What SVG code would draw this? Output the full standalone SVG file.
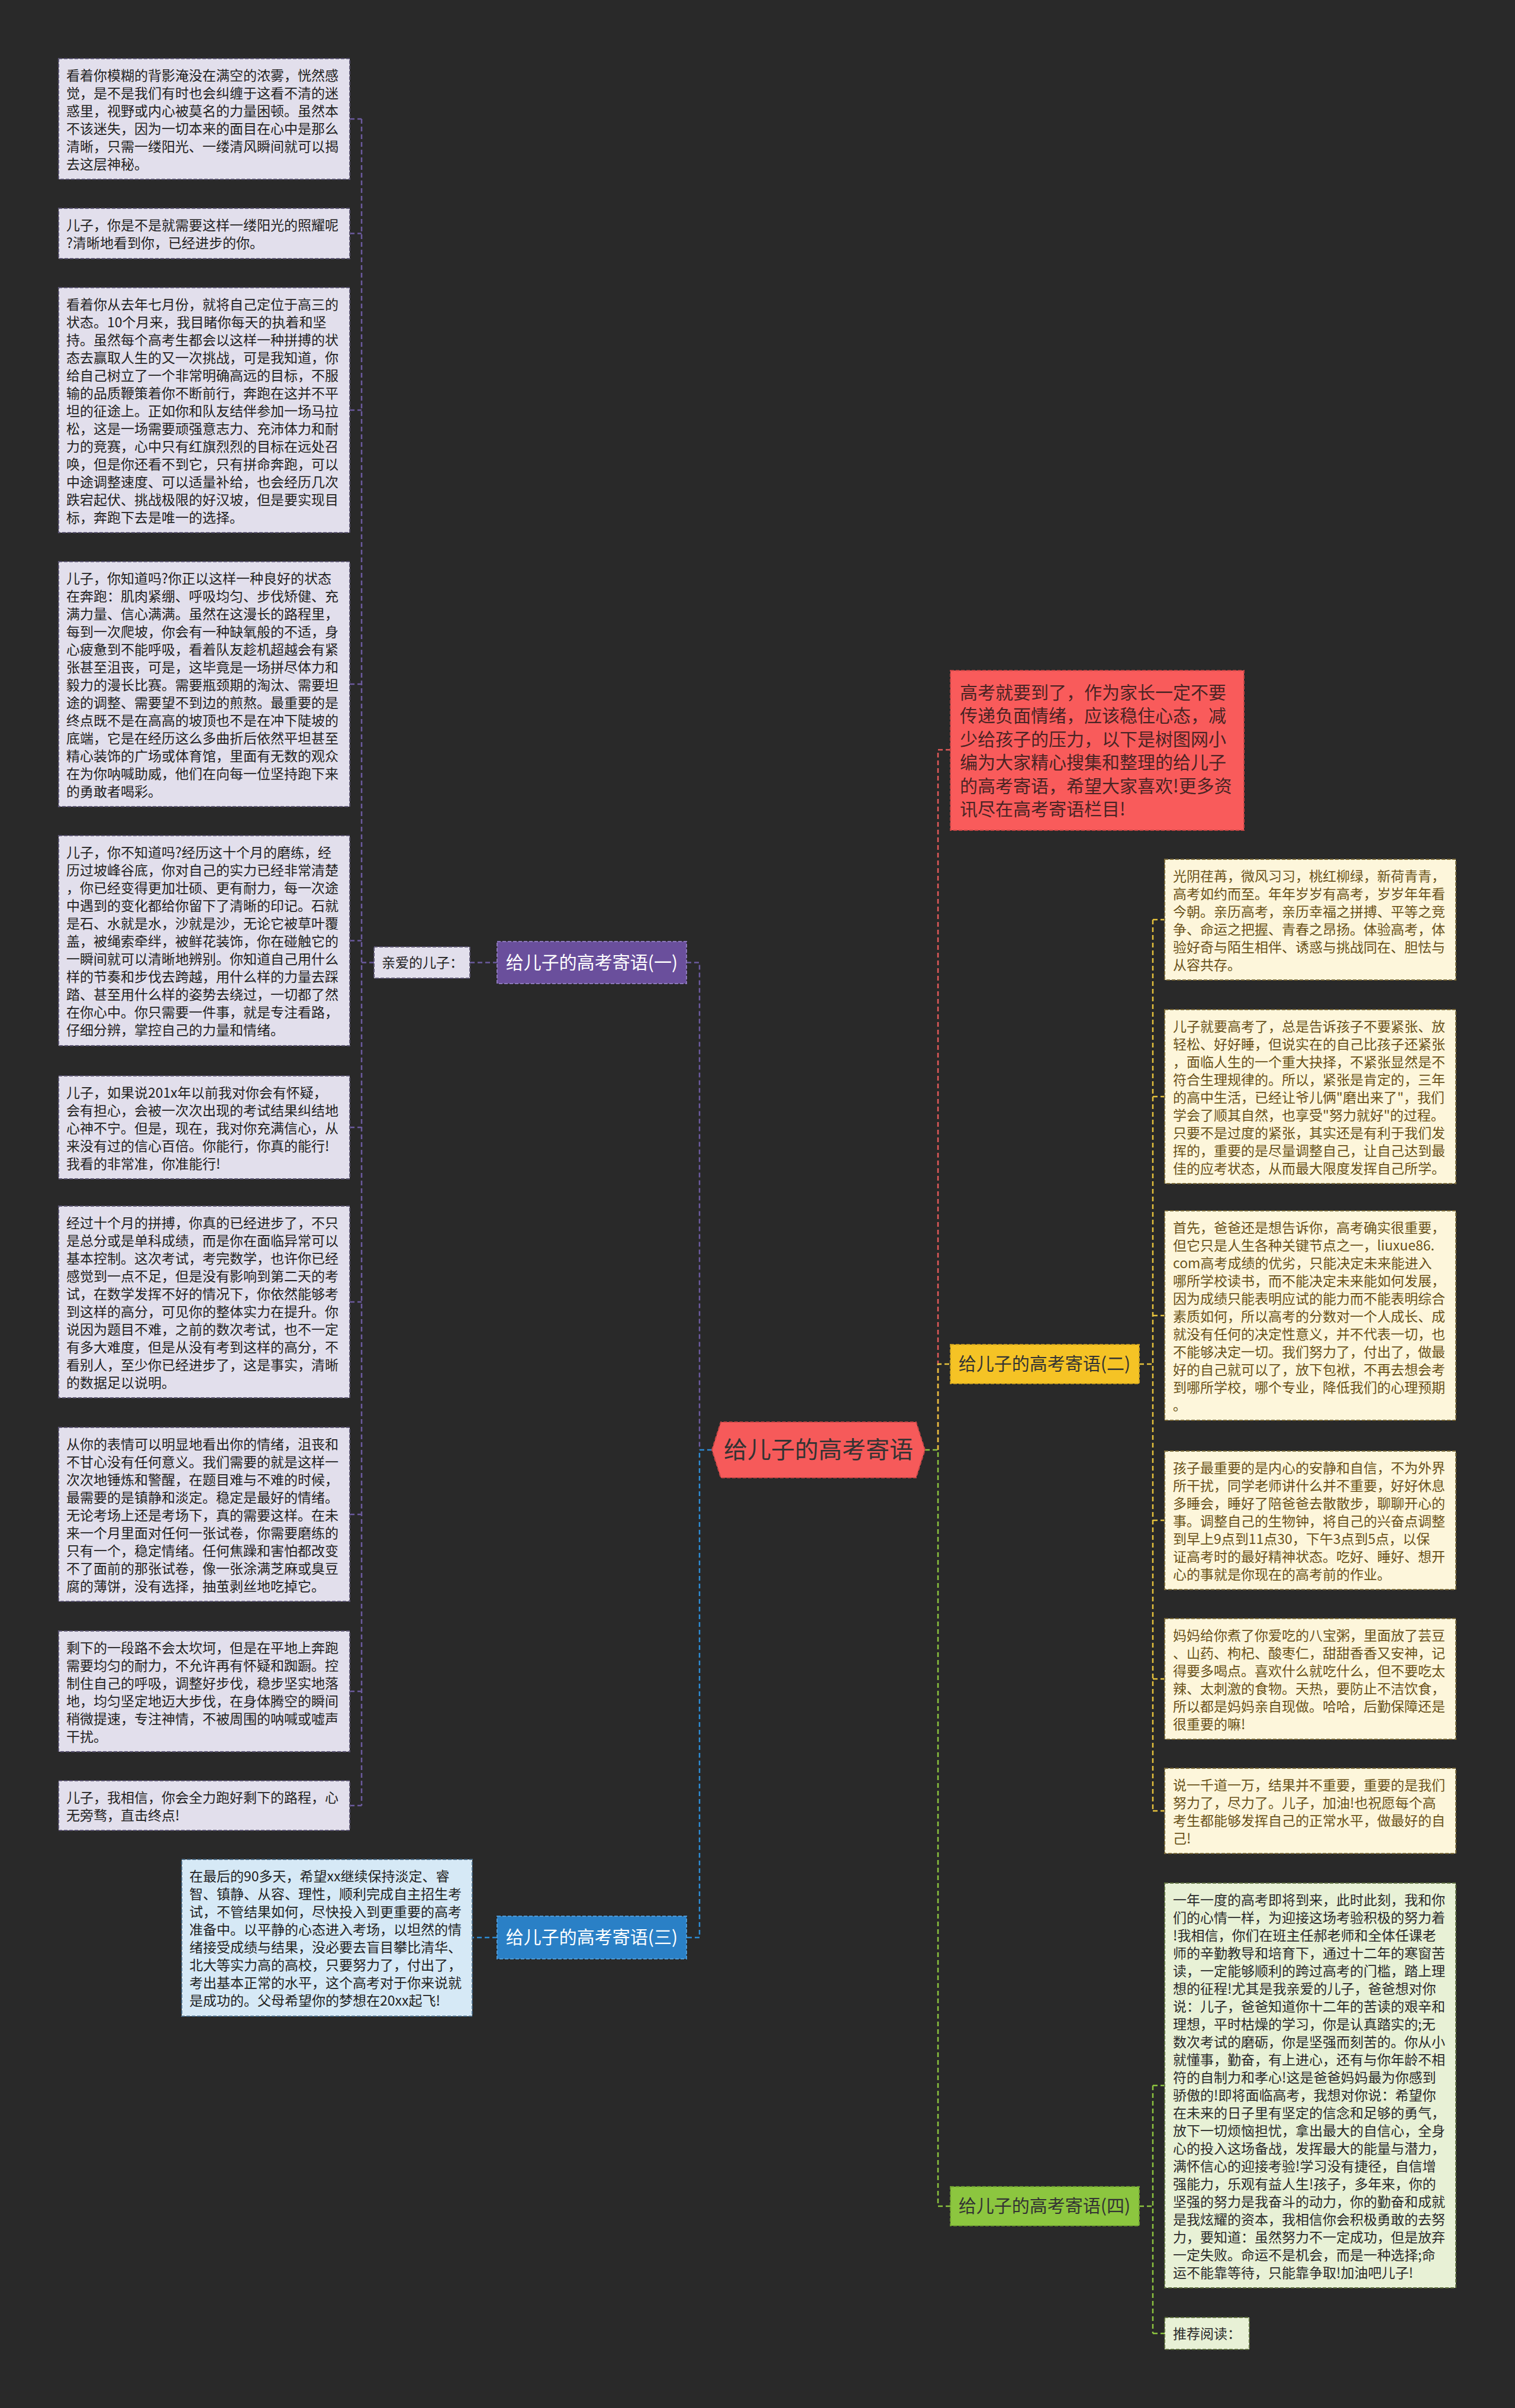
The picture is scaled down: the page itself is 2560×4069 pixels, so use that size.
<svg xmlns="http://www.w3.org/2000/svg" width="2560" height="4069" viewBox="0 0 2560 4069">
<style>
text{font-family:"Noto Sans CJK SC","Noto Sans",sans-serif;}
.t{font-size:23px;}
.lt{fill:#222;}
.rt{fill:#6a5219;}
.gt{fill:#2a2a2a;}
.lbox{fill:#e2dfec;stroke:#5c5672;stroke-width:2;stroke-dasharray:6 3;}
.bbox{fill:#d6e9f6;stroke:#4a6a85;stroke-width:2;stroke-dasharray:6 3;}
.ybox{fill:#fdf6db;stroke:#7a6a3a;stroke-width:2;stroke-dasharray:6 3;}
.gbox{fill:#e8f1d6;stroke:#5f7040;stroke-width:2;stroke-dasharray:6 3;}
.c{fill:none;stroke-width:2.5;stroke-dasharray:8 5;}
.cp{stroke:#6b5a9e;}
.cb{stroke:#2d8ad2;}
.cr{stroke:#e35a5a;}
.cy{stroke:#e6c23c;}
.cg{stroke:#8cc43f;}
.nt{font-size:30px;text-anchor:middle;}
</style>
<rect width="2560" height="4069" fill="#292929"/>
<g id="connectors">
<path class="c cp" d="M611,201V3051M591,201H611M591,394.5H611M591,693H611M591,1156H611M591,1589.5H611M591,1905H611M591,2200H611M591,2559H611M591,2858H611M591,3051H611M611,1626.5H632M794,1626.5H840M1160,1626.5H1182V2450"/>
<path class="c cr" d="M1585,2450V1267H1606"/>
<path class="c cy" d="M1585,2450V2305H1606M1925,2305H1948M1948,1554V3060M1948,1554H1968M1948,1853H1968M1948,2223H1968M1948,2569H1968M1948,2837H1968M1948,3060H1968"/>
<path class="c cg" d="M1563,2450H1585V3728H1606M1925,3728H1948M1948,3524V3943M1948,3524H1968M1948,3943H1968"/>
<path class="c cb" d="M1203,2450H1182V3274H1160M840,3274H798"/>
</g>
<g id="root">
<polygon points="1203,2450 1218,2403 1548,2403 1563,2450 1548,2497 1218,2497" fill="#f65a5a" stroke="#c84646" stroke-width="2" stroke-dasharray="6 3"/>
<text x="1383" y="2464" font-size="40" text-anchor="middle" fill="#333">给儿子的高考寄语</text>
</g>
<g id="branch1">
<rect x="840" y="1591" width="320" height="71" fill="#6a4f9c" stroke="#8c78bb" stroke-width="2" stroke-dasharray="6 3"/>
<text class="nt" x="1000" y="1637" fill="#fff">给儿子的高考寄语(一)</text>
</g>
<g id="branch2">
<rect x="1606" y="2272" width="319" height="66" fill="#f5c325" stroke="#c9a020" stroke-width="2" stroke-dasharray="6 3"/>
<text class="nt" x="1765" y="2315" fill="#333">给儿子的高考寄语(二)</text>
</g>
<g id="branch3">
<rect x="840" y="3238" width="320" height="72" fill="#2a80c6" stroke="#4d9ad6" stroke-width="2" stroke-dasharray="6 3"/>
<text class="nt" x="1000" y="3284" fill="#fff">给儿子的高考寄语(三)</text>
</g>
<g id="branch4">
<rect x="1606" y="3695" width="319" height="66" fill="#8cc63f" stroke="#6e9e30" stroke-width="2" stroke-dasharray="6 3"/>
<text class="nt" x="1765" y="3738" fill="#333">给儿子的高考寄语(四)</text>
</g>
<g id="intro">
<rect x="1606" y="1133" width="496" height="270" fill="#f95b5b" stroke="#c44444" stroke-width="2" stroke-dasharray="6 3"/>
<text x="1622" y="1181" font-size="30" fill="#4a2424"><tspan x="1622">高考就要到了，作为家长一定不要</tspan><tspan x="1622" dy="39.4">传递负面情绪，应该稳住心态，减</tspan><tspan x="1622" dy="39.4">少给孩子的压力，以下是树图网小</tspan><tspan x="1622" dy="39.4">编为大家精心搜集和整理的给儿子</tspan><tspan x="1622" dy="39.4">的高考寄语，希望大家喜欢!更多资</tspan><tspan x="1622" dy="39.4">讯尽在高考寄语栏目!</tspan></text>
</g>
<g id="dear">
<rect x="632" y="1600" width="162" height="53" class="lbox"/>
<text class="t lt" x="645" y="1635">亲爱的儿子：</text>
</g>
<g id="l1">
<rect x="99" y="99" width="492" height="204" class="lbox"/>
<text class="t lt" y="136"><tspan x="112">看着你模糊的背影淹没在满空的浓雾，恍然感</tspan><tspan x="112" dy="30">觉，是不是我们有时也会纠缠于这看不清的迷</tspan><tspan x="112" dy="30">惑里，视野或内心被莫名的力量困顿。虽然本</tspan><tspan x="112" dy="30">不该迷失，因为一切本来的面目在心中是那么</tspan><tspan x="112" dy="30">清晰，只需一缕阳光、一缕清风瞬间就可以揭</tspan><tspan x="112" dy="30">去这层神秘。</tspan></text>
</g>
<g id="l2">
<rect x="99" y="352" width="492" height="85" class="lbox"/>
<text class="t lt" y="389"><tspan x="112">儿子，你是不是就需要这样一缕阳光的照耀呢</tspan><tspan x="112" dy="30">?清晰地看到你，已经进步的你。</tspan></text>
</g>
<g id="l3">
<rect x="99" y="486" width="492" height="414" class="lbox"/>
<text class="t lt" y="523"><tspan x="112">看着你从去年七月份，就将自己定位于高三的</tspan><tspan x="112" dy="30">状态。10个月来，我目睹你每天的执着和坚</tspan><tspan x="112" dy="30">持。虽然每个高考生都会以这样一种拼搏的状</tspan><tspan x="112" dy="30">态去赢取人生的又一次挑战，可是我知道，你</tspan><tspan x="112" dy="30">给自己树立了一个非常明确高远的目标，不服</tspan><tspan x="112" dy="30">输的品质鞭策着你不断前行，奔跑在这并不平</tspan><tspan x="112" dy="30">坦的征途上。正如你和队友结伴参加一场马拉</tspan><tspan x="112" dy="30">松，这是一场需要顽强意志力、充沛体力和耐</tspan><tspan x="112" dy="30">力的竞赛，心中只有红旗烈烈的目标在远处召</tspan><tspan x="112" dy="30">唤，但是你还看不到它，只有拼命奔跑，可以</tspan><tspan x="112" dy="30">中途调整速度、可以适量补给，也会经历几次</tspan><tspan x="112" dy="30">跌宕起伏、挑战极限的好汉坡，但是要实现目</tspan><tspan x="112" dy="30">标，奔跑下去是唯一的选择。</tspan></text>
</g>
<g id="l4">
<rect x="99" y="949" width="492" height="414" class="lbox"/>
<text class="t lt" y="986"><tspan x="112">儿子，你知道吗?你正以这样一种良好的状态</tspan><tspan x="112" dy="30">在奔跑：肌肉紧绷、呼吸均匀、步伐矫健、充</tspan><tspan x="112" dy="30">满力量、信心满满。虽然在这漫长的路程里，</tspan><tspan x="112" dy="30">每到一次爬坡，你会有一种缺氧般的不适，身</tspan><tspan x="112" dy="30">心疲惫到不能呼吸，看着队友趁机超越会有紧</tspan><tspan x="112" dy="30">张甚至沮丧，可是，这毕竟是一场拼尽体力和</tspan><tspan x="112" dy="30">毅力的漫长比赛。需要瓶颈期的淘汰、需要坦</tspan><tspan x="112" dy="30">途的调整、需要望不到边的煎熬。最重要的是</tspan><tspan x="112" dy="30">终点既不是在高高的坡顶也不是在冲下陡坡的</tspan><tspan x="112" dy="30">底端，它是在经历这么多曲折后依然平坦甚至</tspan><tspan x="112" dy="30">精心装饰的广场或体育馆，里面有无数的观众</tspan><tspan x="112" dy="30">在为你呐喊助威，他们在向每一位坚持跑下来</tspan><tspan x="112" dy="30">的勇敢者喝彩。</tspan></text>
</g>
<g id="l5">
<rect x="99" y="1412" width="492" height="355" class="lbox"/>
<text class="t lt" y="1449"><tspan x="112">儿子，你不知道吗?经历这十个月的磨练，经</tspan><tspan x="112" dy="30">历过坡峰谷底，你对自己的实力已经非常清楚</tspan><tspan x="112" dy="30">，你已经变得更加壮硕、更有耐力，每一次途</tspan><tspan x="112" dy="30">中遇到的变化都给你留下了清晰的印记。石就</tspan><tspan x="112" dy="30">是石、水就是水，沙就是沙，无论它被草叶覆</tspan><tspan x="112" dy="30">盖，被绳索牵绊，被鲜花装饰，你在碰触它的</tspan><tspan x="112" dy="30">一瞬间就可以清晰地辨别。你知道自己用什么</tspan><tspan x="112" dy="30">样的节奏和步伐去跨越，用什么样的力量去踩</tspan><tspan x="112" dy="30">踏、甚至用什么样的姿势去绕过，一切都了然</tspan><tspan x="112" dy="30">在你心中。你只需要一件事，就是专注看路，</tspan><tspan x="112" dy="30">仔细分辨，掌控自己的力量和情绪。</tspan></text>
</g>
<g id="l6">
<rect x="99" y="1818" width="492" height="174" class="lbox"/>
<text class="t lt" y="1855"><tspan x="112">儿子，如果说201x年以前我对你会有怀疑，</tspan><tspan x="112" dy="30">会有担心，会被一次次出现的考试结果纠结地</tspan><tspan x="112" dy="30">心神不宁。但是，现在，我对你充满信心，从</tspan><tspan x="112" dy="30">来没有过的信心百倍。你能行，你真的能行!</tspan><tspan x="112" dy="30">我看的非常准，你准能行!</tspan></text>
</g>
<g id="l7">
<rect x="99" y="2038" width="492" height="324" class="lbox"/>
<text class="t lt" y="2075"><tspan x="112">经过十个月的拼搏，你真的已经进步了，不只</tspan><tspan x="112" dy="30">是总分或是单科成绩，而是你在面临异常可以</tspan><tspan x="112" dy="30">基本控制。这次考试，考完数学，也许你已经</tspan><tspan x="112" dy="30">感觉到一点不足，但是没有影响到第二天的考</tspan><tspan x="112" dy="30">试，在数学发挥不好的情况下，你依然能够考</tspan><tspan x="112" dy="30">到这样的高分，可见你的整体实力在提升。你</tspan><tspan x="112" dy="30">说因为题目不难，之前的数次考试，也不一定</tspan><tspan x="112" dy="30">有多大难度，但是从没有考到这样的高分，不</tspan><tspan x="112" dy="30">看别人，至少你已经进步了，这是事实，清晰</tspan><tspan x="112" dy="30">的数据足以说明。</tspan></text>
</g>
<g id="l8">
<rect x="99" y="2412" width="492" height="294" class="lbox"/>
<text class="t lt" y="2449"><tspan x="112">从你的表情可以明显地看出你的情绪，沮丧和</tspan><tspan x="112" dy="30">不甘心没有任何意义。我们需要的就是这样一</tspan><tspan x="112" dy="30">次次地锤炼和警醒，在题目难与不难的时候，</tspan><tspan x="112" dy="30">最需要的是镇静和淡定。稳定是最好的情绪。</tspan><tspan x="112" dy="30">无论考场上还是考场下，真的需要这样。在未</tspan><tspan x="112" dy="30">来一个月里面对任何一张试卷，你需要磨练的</tspan><tspan x="112" dy="30">只有一个，稳定情绪。任何焦躁和害怕都改变</tspan><tspan x="112" dy="30">不了面前的那张试卷，像一张涂满芝麻或臭豆</tspan><tspan x="112" dy="30">腐的薄饼，没有选择，抽茧剥丝地吃掉它。</tspan></text>
</g>
<g id="l9">
<rect x="99" y="2756" width="492" height="204" class="lbox"/>
<text class="t lt" y="2793"><tspan x="112">剩下的一段路不会太坎坷，但是在平地上奔跑</tspan><tspan x="112" dy="30">需要均匀的耐力，不允许再有怀疑和踟蹰。控</tspan><tspan x="112" dy="30">制住自己的呼吸，调整好步伐，稳步坚实地落</tspan><tspan x="112" dy="30">地，均匀坚定地迈大步伐，在身体腾空的瞬间</tspan><tspan x="112" dy="30">稍微提速，专注神情，不被周围的呐喊或嘘声</tspan><tspan x="112" dy="30">干扰。</tspan></text>
</g>
<g id="l10">
<rect x="99" y="3009" width="492" height="84" class="lbox"/>
<text class="t lt" y="3046"><tspan x="112">儿子，我相信，你会全力跑好剩下的路程，心</tspan><tspan x="112" dy="30">无旁骛，直击终点!</tspan></text>
</g>
<g id="b1">
<rect x="307" y="3142" width="491" height="265" class="bbox"/>
<text class="t lt" y="3179"><tspan x="320">在最后的90多天，希望xx继续保持淡定、睿</tspan><tspan x="320" dy="30">智、镇静、从容、理性，顺利完成自主招生考</tspan><tspan x="320" dy="30">试，不管结果如何，尽快投入到更重要的高考</tspan><tspan x="320" dy="30">准备中。以平静的心态进入考场，以坦然的情</tspan><tspan x="320" dy="30">绪接受成绩与结果，没必要去盲目攀比清华、</tspan><tspan x="320" dy="30">北大等实力高的高校，只要努力了，付出了，</tspan><tspan x="320" dy="30">考出基本正常的水平，这个高考对于你来说就</tspan><tspan x="320" dy="30">是成功的。父母希望你的梦想在20xx起飞!</tspan></text>
</g>
<g id="r1">
<rect x="1968" y="1452" width="492" height="204" class="ybox"/>
<text class="t rt" y="1489"><tspan x="1982">光阴荏苒，微风习习，桃红柳绿，新荷青青，</tspan><tspan x="1982" dy="30">高考如约而至。年年岁岁有高考，岁岁年年看</tspan><tspan x="1982" dy="30">今朝。亲历高考，亲历幸福之拼搏、平等之竞</tspan><tspan x="1982" dy="30">争、命运之把握、青春之昂扬。体验高考，体</tspan><tspan x="1982" dy="30">验好奇与陌生相伴、诱惑与挑战同在、胆怯与</tspan><tspan x="1982" dy="30">从容共存。</tspan></text>
</g>
<g id="r2">
<rect x="1968" y="1706" width="492" height="294" class="ybox"/>
<text class="t rt" y="1743"><tspan x="1982">儿子就要高考了，总是告诉孩子不要紧张、放</tspan><tspan x="1982" dy="30">轻松、好好睡，但说实在的自己比孩子还紧张</tspan><tspan x="1982" dy="30">，面临人生的一个重大抉择，不紧张显然是不</tspan><tspan x="1982" dy="30">符合生理规律的。所以，紧张是肯定的，三年</tspan><tspan x="1982" dy="30">的高中生活，已经让爷儿俩"磨出来了"，我们</tspan><tspan x="1982" dy="30">学会了顺其自然，也享受"努力就好"的过程。</tspan><tspan x="1982" dy="30">只要不是过度的紧张，其实还是有利于我们发</tspan><tspan x="1982" dy="30">挥的，重要的是尽量调整自己，让自己达到最</tspan><tspan x="1982" dy="30">佳的应考状态，从而最大限度发挥自己所学。</tspan></text>
</g>
<g id="r3">
<rect x="1968" y="2046" width="492" height="354" class="ybox"/>
<text class="t rt" y="2083"><tspan x="1982">首先，爸爸还是想告诉你，高考确实很重要，</tspan><tspan x="1982" dy="30">但它只是人生各种关键节点之一，liuxue86.</tspan><tspan x="1982" dy="30">com高考成绩的优劣，只能决定未来能进入</tspan><tspan x="1982" dy="30">哪所学校读书，而不能决定未来能如何发展，</tspan><tspan x="1982" dy="30">因为成绩只能表明应试的能力而不能表明综合</tspan><tspan x="1982" dy="30">素质如何，所以高考的分数对一个人成长、成</tspan><tspan x="1982" dy="30">就没有任何的决定性意义，并不代表一切，也</tspan><tspan x="1982" dy="30">不能够决定一切。我们努力了，付出了，做最</tspan><tspan x="1982" dy="30">好的自己就可以了，放下包袱，不再去想会考</tspan><tspan x="1982" dy="30">到哪所学校，哪个专业，降低我们的心理预期</tspan><tspan x="1982" dy="30">。</tspan></text>
</g>
<g id="r4">
<rect x="1968" y="2452" width="492" height="234" class="ybox"/>
<text class="t rt" y="2489"><tspan x="1982">孩子最重要的是内心的安静和自信，不为外界</tspan><tspan x="1982" dy="30">所干扰，同学老师讲什么并不重要，好好休息</tspan><tspan x="1982" dy="30">多睡会，睡好了陪爸爸去散散步，聊聊开心的</tspan><tspan x="1982" dy="30">事。调整自己的生物钟，将自己的兴奋点调整</tspan><tspan x="1982" dy="30">到早上9点到11点30，下午3点到5点，以保</tspan><tspan x="1982" dy="30">证高考时的最好精神状态。吃好、睡好、想开</tspan><tspan x="1982" dy="30">心的事就是你现在的高考前的作业。</tspan></text>
</g>
<g id="r5">
<rect x="1968" y="2735" width="492" height="204" class="ybox"/>
<text class="t rt" y="2772"><tspan x="1982">妈妈给你煮了你爱吃的八宝粥，里面放了芸豆</tspan><tspan x="1982" dy="30">、山药、枸杞、酸枣仁，甜甜香香又安神，记</tspan><tspan x="1982" dy="30">得要多喝点。喜欢什么就吃什么，但不要吃太</tspan><tspan x="1982" dy="30">辣、太刺激的食物。天热，要防止不洁饮食，</tspan><tspan x="1982" dy="30">所以都是妈妈亲自现做。哈哈，后勤保障还是</tspan><tspan x="1982" dy="30">很重要的嘛!</tspan></text>
</g>
<g id="r6">
<rect x="1968" y="2988" width="492" height="144" class="ybox"/>
<text class="t rt" y="3025"><tspan x="1982">说一千道一万，结果并不重要，重要的是我们</tspan><tspan x="1982" dy="30">努力了，尽力了。儿子，加油!也祝愿每个高</tspan><tspan x="1982" dy="30">考生都能够发挥自己的正常水平，做最好的自</tspan><tspan x="1982" dy="30">己!</tspan></text>
</g>
<g id="g1">
<rect x="1968" y="3182" width="492" height="684" class="gbox"/>
<text class="t gt" y="3219"><tspan x="1982">一年一度的高考即将到来，此时此刻，我和你</tspan><tspan x="1982" dy="30">们的心情一样，为迎接这场考验积极的努力着</tspan><tspan x="1982" dy="30">!我相信，你们在班主任郝老师和全体任课老</tspan><tspan x="1982" dy="30">师的辛勤教导和培育下，通过十二年的寒窗苦</tspan><tspan x="1982" dy="30">读，一定能够顺利的跨过高考的门槛，踏上理</tspan><tspan x="1982" dy="30">想的征程!尤其是我亲爱的儿子，爸爸想对你</tspan><tspan x="1982" dy="30">说：儿子，爸爸知道你十二年的苦读的艰辛和</tspan><tspan x="1982" dy="30">理想，平时枯燥的学习，你是认真踏实的;无</tspan><tspan x="1982" dy="30">数次考试的磨砺，你是坚强而刻苦的。你从小</tspan><tspan x="1982" dy="30">就懂事，勤奋，有上进心，还有与你年龄不相</tspan><tspan x="1982" dy="30">符的自制力和孝心!这是爸爸妈妈最为你感到</tspan><tspan x="1982" dy="30">骄傲的!即将面临高考，我想对你说：希望你</tspan><tspan x="1982" dy="30">在未来的日子里有坚定的信念和足够的勇气，</tspan><tspan x="1982" dy="30">放下一切烦恼担忧，拿出最大的自信心，全身</tspan><tspan x="1982" dy="30">心的投入这场备战，发挥最大的能量与潜力，</tspan><tspan x="1982" dy="30">满怀信心的迎接考验!学习没有捷径，自信增</tspan><tspan x="1982" dy="30">强能力，乐观有益人生!孩子，多年来，你的</tspan><tspan x="1982" dy="30">坚强的努力是我奋斗的动力，你的勤奋和成就</tspan><tspan x="1982" dy="30">是我炫耀的资本，我相信你会积极勇敢的去努</tspan><tspan x="1982" dy="30">力，要知道：虽然努力不一定成功，但是放弃</tspan><tspan x="1982" dy="30">一定失败。命运不是机会，而是一种选择;命</tspan><tspan x="1982" dy="30">运不能靠等待，只能靠争取!加油吧儿子!</tspan></text>
</g>
<g id="g2">
<rect x="1968" y="3916" width="143" height="54" class="gbox"/>
<text class="t gt" x="1982" y="3952">推荐阅读：</text>
</g>
</svg>
